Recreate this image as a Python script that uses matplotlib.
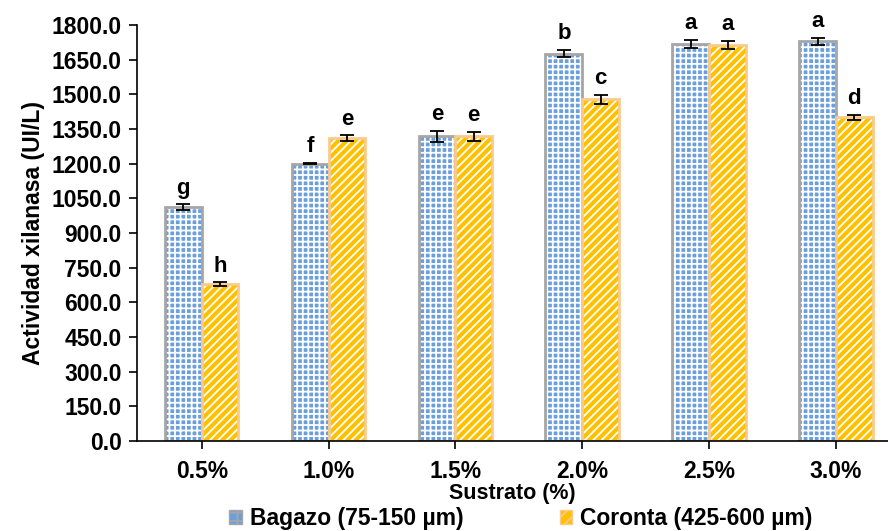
import matplotlib.pyplot as plt
import numpy as np
from matplotlib.patches import Patch

plt.rcParams["font.family"] = ["Liberation Sans", "DejaVu Sans"]
plt.rcParams["font.weight"] = "bold"
plt.rcParams["hatch.linewidth"] = 1.3

categories = ["0.5%", "1.0%", "1.5%", "2.0%", "2.5%", "3.0%"]
bagazo = [1012, 1200, 1318, 1676, 1718, 1730]
bagazo_err = [12, 3, 25, 15, 18, 15]
bagazo_letters = ["g", "f", "e", "b", "a", "a"]
coronta = [678, 1310, 1318, 1478, 1714, 1400]
coronta_err = [8, 12, 20, 18, 18, 10]
coronta_letters = ["h", "e", "e", "c", "a", "d"]
yticks = np.arange(0, 1801, 150)

BLUE = "#6a9fdc"
YELLOW = "#ffc000"

x = np.arange(len(categories))
w = 0.29

fig = plt.figure(figsize=(8.88, 5.31), dpi=100)
ax = fig.add_axes([137 / 888, 1 - 441 / 531, 751 / 888, 416 / 531])

# fill + white hatch, then outline on top
ax.bar(x - w / 2, bagazo, w, color=BLUE, edgecolor="white", hatch="+++", linewidth=0)
ax.bar(x - w / 2, bagazo, w, fill=False, edgecolor="#a6a6a6", linewidth=2)
ax.bar(x + w / 2, coronta, w, color=YELLOW, edgecolor="white", hatch="////", linewidth=0)
ax.bar(x + w / 2, coronta, w, fill=False, edgecolor="#f8cb8c", linewidth=2)

ax.errorbar(x - w / 2, bagazo, yerr=bagazo_err, fmt="none", ecolor="black", elinewidth=1.3, capsize=5, capthick=1.3)
ax.errorbar(x + w / 2, coronta, yerr=coronta_err, fmt="none", ecolor="black", elinewidth=1.3, capsize=5, capthick=1.3)

for xi, v, e, t in zip(x - w / 2, bagazo, bagazo_err, bagazo_letters):
    ax.text(xi, v + e + 25, t, ha="center", va="bottom", fontsize=16, fontweight="bold")
for xi, v, e, t in zip(x + w / 2, coronta, coronta_err, coronta_letters):
    ax.text(xi, v + e + 25, t, ha="center", va="bottom", fontsize=16, fontweight="bold")

ax.set_xlim(-0.51, 5.41)
ax.set_ylim(0, 1800)
ax.set_yticks(yticks)
ax.set_yticklabels([f"{v:.1f}" for v in yticks], fontsize=16.5, fontweight="bold")
ax.set_xticks(x)
ax.set_xticklabels(categories, fontsize=16.5, fontweight="bold")
ax.tick_params(axis="both", direction="out", length=6, width=1.2, pad=5)
ax.tick_params(axis="x", pad=8)
ax.spines["top"].set_visible(False)
ax.spines["right"].set_visible(False)
ax.spines["left"].set_linewidth(1.2)
ax.spines["bottom"].set_linewidth(1.2)

ax.set_ylabel("Actividad xilanasa (UI/L)", fontsize=16.5, fontweight="bold", labelpad=5)
ax.set_xlabel("Sustrato (%)", fontsize=15.5, fontweight="bold", labelpad=0)

handles = [
    Patch(facecolor=BLUE, edgecolor="#a6a6a6", hatch="++", linewidth=1),
    Patch(facecolor=YELLOW, edgecolor="#f8cb8c", hatch="///", linewidth=1),
]
fig.legend(handles, ["Bagazo (75-150 µm)", "Coronta (425-600 µm)"], loc="center",
           bbox_to_anchor=(521 / 888, 1 - 519 / 531), ncol=2, frameon=False,
           handlelength=0.55, handleheight=0.55, handletextpad=0.35,
           columnspacing=4.2, prop={"weight": "bold", "size": 16.5})

fig.savefig("out.png", dpi=100)
